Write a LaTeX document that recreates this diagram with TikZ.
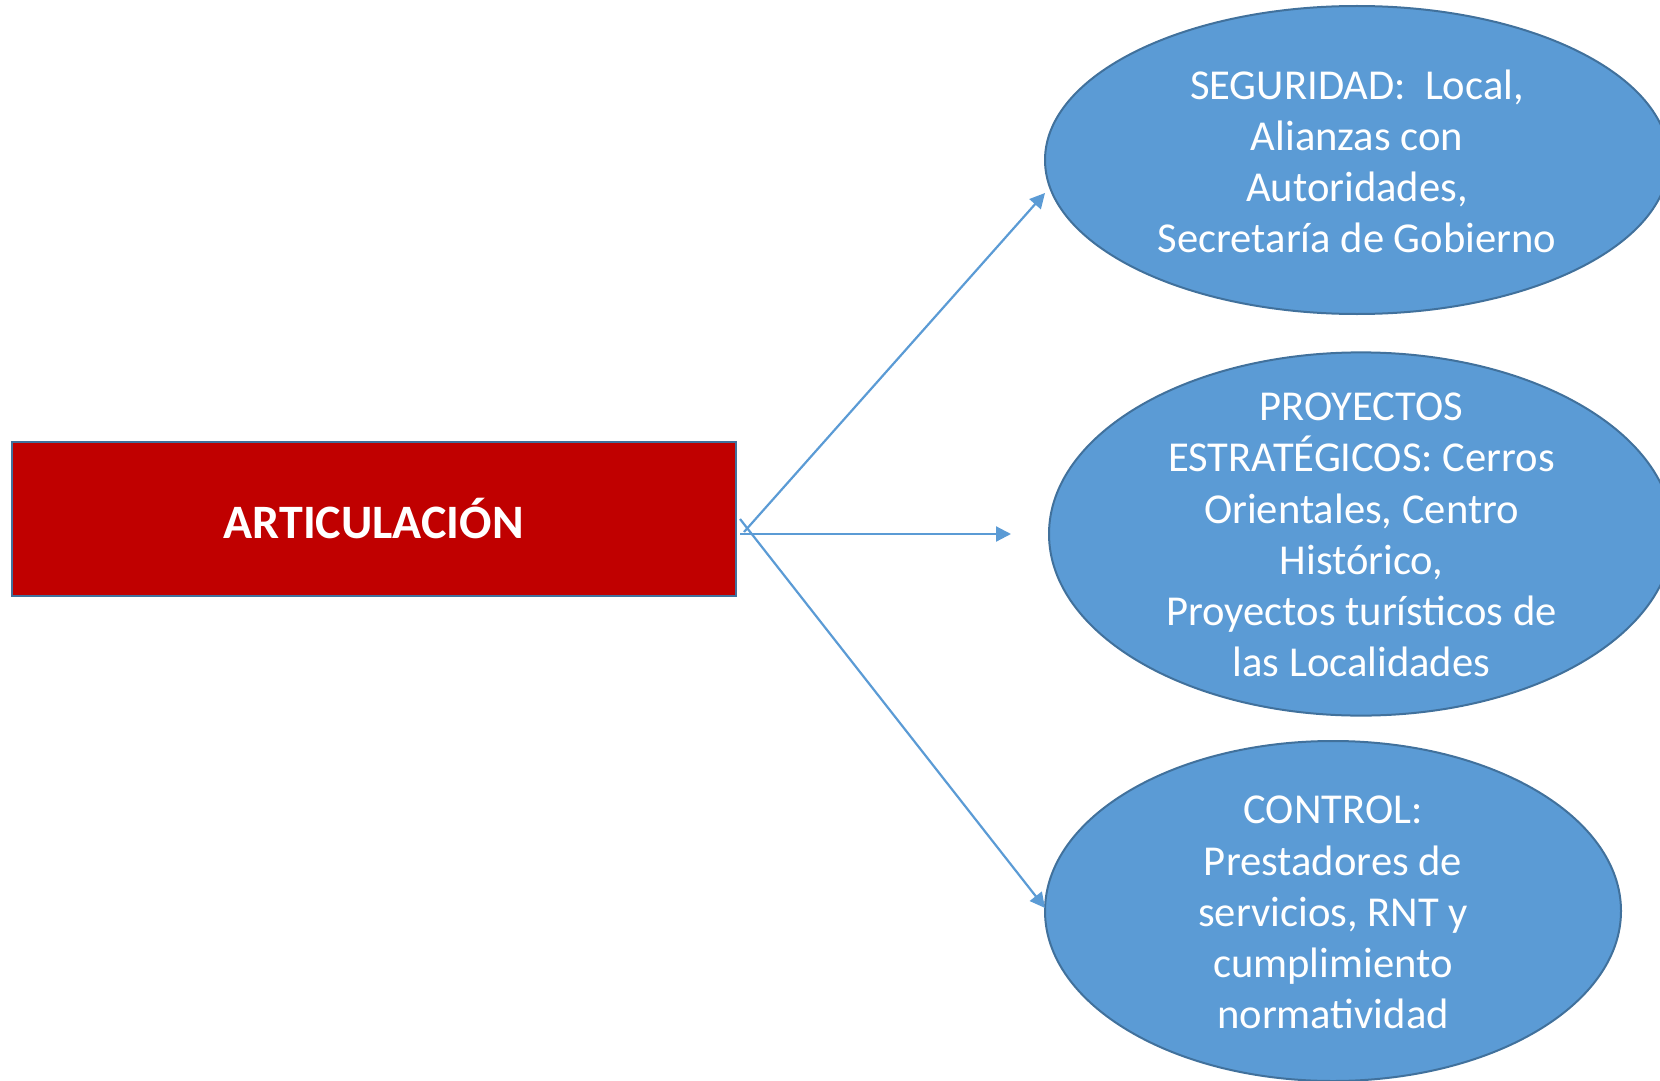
\documentclass[tikz,border=0pt]{standalone}
\usepackage{fontspec}
\setmainfont{Carlito}
\usetikzlibrary{shapes.geometric,arrows.meta}
\definecolor{ovalblue}{HTML}{5B9BD5}
\definecolor{ovalborder}{HTML}{41719C}
\definecolor{boxred}{HTML}{C00000}

\begin{document}
\begin{tikzpicture}
	[x=0.5pt, y=-0.5pt,
	box node/.style={draw=ovalborder, line width=1pt, fill=boxred, minimum width=362pt, minimum height=77pt, text=white, font=\fontsize{24}{28}\selectfont\bfseries},
	oval node/.style={ellipse, draw=ovalborder, line width=1pt, fill=ovalblue},
	oval text/.style={text=white, align=center, font=\fontsize{21.3}{25.6}\selectfont},
	link/.style={draw=ovalblue, line width=1.1pt, -{Triangle[length=7.5pt, width=7.5pt]}}]
	\useasboundingbox (0,0) rectangle (1660,1081);
	\node[box node] (art) at (373.7, 518.8) {ARTICULACIÓN};
	\node[oval node, minimum width=312pt, minimum height=154pt] (seg) at (1357, 160) {};
	\node[oval node, minimum width=312pt, minimum height=181.6pt] (pro) at (1361, 534) {};
	\node[oval node, minimum width=288pt, minimum height=170pt] (con) at (1333, 911) {};
	\node[oval text] (seg text) at (1357, 161.5) {SEGURIDAD:~ Local,\\Alianzas con\\Autoridades,\\Secretaría de Gobierno};
	\node[oval text] (pro text) at (1361.5, 535) {PROYECTOS\\ESTRATÉGICOS: Cerros\\Orientales, Centro\\Histórico,\\Proyectos turísticos de\\las Localidades};
	\node[oval text] (con text) at (1333, 912.6) {CONTROL:\\Prestadores de\\servicios, RNT y\\cumplimiento\\normatividad};
	\coordinate (up start) at (744, 532);
	\coordinate (mid start) at (740, 534);
	\coordinate (low start) at (740, 519);
	\coordinate (up end) at (1045, 193);
	\coordinate (mid end) at (1011, 534);
	\coordinate (low end) at (1045, 908);
	\path[link] (up start) -- (up end);
	\path[link] (mid start) -- (mid end);
	\path[link] (low start) -- (low end);
\end{tikzpicture}
\end{document}
